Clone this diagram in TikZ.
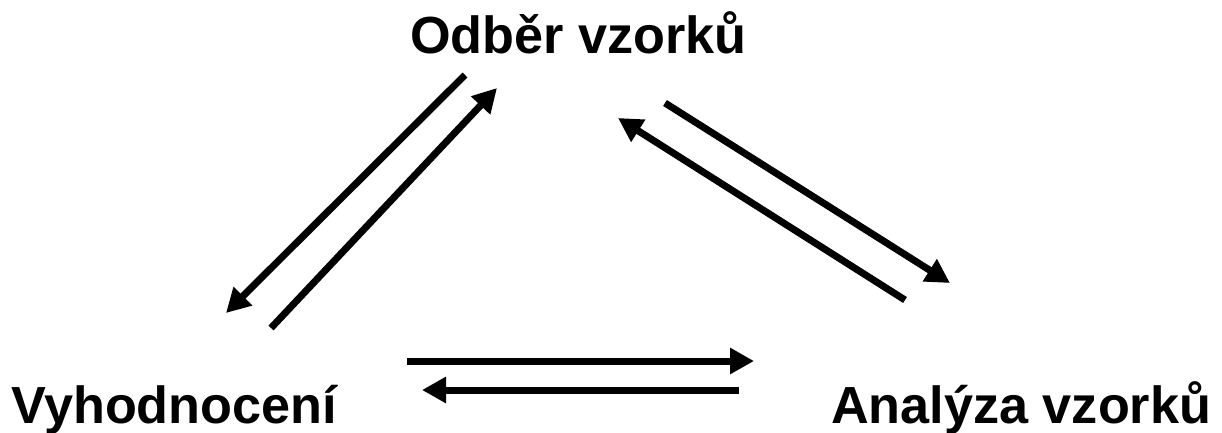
\documentclass[tikz,border=0pt]{standalone}
\usepackage{fontspec}
\setmainfont{Liberation Sans}
\usetikzlibrary{arrows.meta}
\begin{document}
\begin{tikzpicture}[x=1pt,y=-1pt,
  lbl/.style={inner sep=0pt, anchor=base west, font=\fontsize{52.2}{60}\selectfont\bfseries},
  arr/.style={line width=7pt, -{Triangle[length=24pt,width=25pt]}}]
\useasboundingbox (0,0) rectangle (1222,432);
\node[lbl] (odb) at (410,53) {Odběr vzorků};
\node[lbl] (vyh) at (11,423) {Vyhodnocení};
\node[lbl] (ana) at (831,423) {Analýza vzorků};
\coordinate (a1) at (465,75);  \coordinate (a2) at (226,313);
\coordinate (b1) at (271,328); \coordinate (b2) at (497,88);
\coordinate (c1) at (665,103); \coordinate (c2) at (950,283);
\coordinate (d1) at (905,300); \coordinate (d2) at (618,118);
\coordinate (e1) at (407,361); \coordinate (e2) at (754,361);
\coordinate (f1) at (739,390); \coordinate (f2) at (422,390);
\draw[arr] (a1) -- (a2);
\draw[arr] (b1) -- (b2);
\draw[arr] (c1) -- (c2);
\draw[arr] (d1) -- (d2);
\draw[arr] (e1) -- (e2);
\draw[arr] (f1) -- (f2);
\end{tikzpicture}
\end{document}
